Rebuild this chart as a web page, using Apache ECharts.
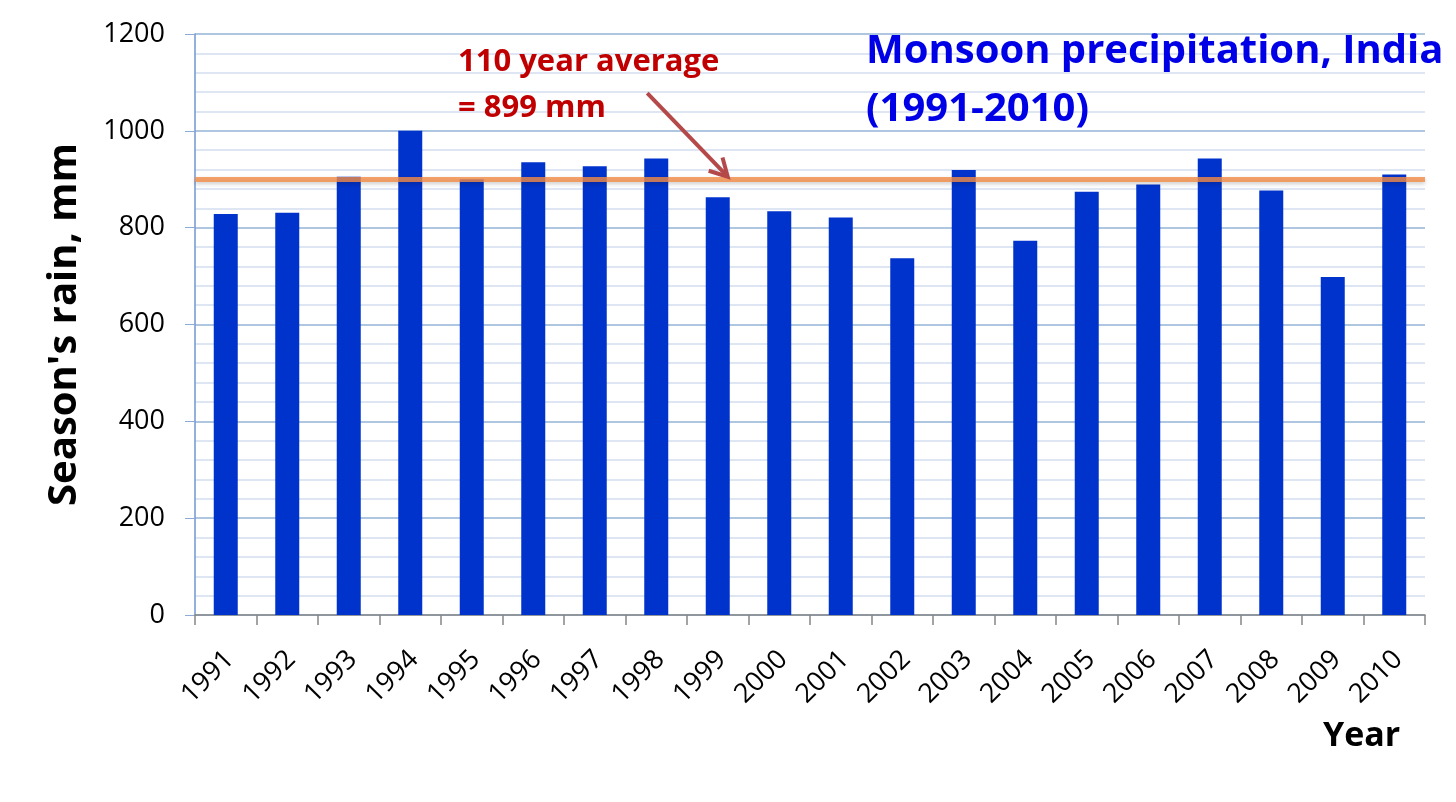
<!DOCTYPE html>
<html>
<head>
<meta charset="utf-8">
<script src="https://cdn.jsdelivr.net/npm/echarts@6/dist/echarts.min.js"></script>
<style>
  html, body { margin: 0; padding: 0; background: #fff; }
  #chart { width: 1456px; height: 802px; }
</style>
</head>
<body>
<div id="chart"></div>
<script>
var years = ['1991', '1992', '1993', '1994', '1995', '1996', '1997', '1998', '1999', '2000',
  '2001', '2002', '2003', '2004', '2005', '2006', '2007', '2008', '2009', '2010'];
var rainfall = [828, 831, 905, 1000, 900, 935, 927, 943, 863, 834,
  821, 737, 919, 773, 874, 889, 943, 877, 698, 910];
var longTermAverage = 899;
var yTicks = [0, 1200, 200];

var dom = document.getElementById('chart');
var myChart = echarts.init(dom, null, { renderer: 'canvas' });

var font = '"Open Sans", "Liberation Sans", sans-serif';

var option = {
  backgroundColor: '#ffffff',
  animation: false,
  title: [
    {
      text: 'Monsoon precipitation, India\n(1991-2010)',
      left: 866,
      top: 23,
      padding: 0,
      textStyle: { color: '#0000e6', fontSize: 40, fontWeight: 'bold', fontFamily: font, lineHeight: 58 }
    },
    {
      text: '110 year average\n= 899 mm',
      left: 458,
      top: 39,
      padding: 0,
      textStyle: { color: '#c00000', fontSize: 31, fontWeight: 'bold', fontFamily: font, lineHeight: 46 }
    },
    {
      text: 'Year',
      left: 1323,
      top: 719,
      padding: 0,
      textStyle: { color: '#000', fontSize: 34, fontWeight: 'bold', fontFamily: font }
    }
  ],
  grid: { left: 195, right: 31, top: 34, bottom: 187 },
  xAxis: {
    type: 'category',
    data: years,
    axisLine: { lineStyle: { color: '#868686', width: 1.5 } },
    axisTick: { show: true, interval: 0, length: 10, lineStyle: { color: '#868686', width: 1.5 } },
    axisLabel: {
      interval: 0, rotate: 45, margin: 25, verticalAlign: 'top', padding: [0, 8, 0, 0],
      fontSize: 27, color: '#000', fontFamily: font
    },
    splitLine: { show: false }
  },
  yAxis: {
    type: 'value',
    min: yTicks[0],
    max: yTicks[1],
    interval: yTicks[2],
    name: "Season's rain, mm",
    nameLocation: 'middle',
    nameGap: 110,
    nameTextStyle: { color: '#000', fontSize: 40, fontWeight: 'bold', fontFamily: font },
    axisLine: { show: true, lineStyle: { color: '#6f97d0', width: 1.5 } },
    axisTick: { show: true, length: 10, lineStyle: { color: '#8eaadb' } },
    axisLabel: {
      margin: 30, fontSize: 27, color: '#000', fontFamily: font,
      formatter: function (v) { return String(v); }
    },
    splitLine: { show: true, lineStyle: { color: '#95b3d7', width: 1.5 } },
    minorTick: { show: false, splitNumber: 5 },
    minorSplitLine: { show: true, lineStyle: { color: '#d3def0', width: 1.5 } }
  },
  series: [
    {
      name: "Season's rain",
      type: 'bar',
      data: rainfall,
      barWidth: 24,
      itemStyle: { color: '#0033cc' },
      markLine: {
        silent: true,
        symbol: 'none',
        label: { show: false },
        lineStyle: {
          color: 'rgba(244,140,70,0.8)',
          width: 5,
          type: 'solid',
          shadowColor: 'rgba(0,0,0,0.25)',
          shadowBlur: 4,
          shadowOffsetY: 2
        },
        data: [{ yAxis: longTermAverage }]
      }
    }
  ]
};

myChart.setOption(option);

// arrow from the annotation to the average line, placed from data positions
var tail = myChart.convertToPixel({ gridIndex: 0 }, ['1998', 1078]);
var tip = myChart.convertToPixel({ gridIndex: 0 }, ['1999', longTermAverage]);
tail[0] -= 9;
tip[0] += 10;
tip[1] -= 3;
var ang = Math.atan2(tip[1] - tail[1], tip[0] - tail[0]);
var head = 20;
var h1 = [tip[0] - head * Math.cos(ang - 0.5), tip[1] - head * Math.sin(ang - 0.5)];
var h2 = [tip[0] - head * Math.cos(ang + 0.5), tip[1] - head * Math.sin(ang + 0.5)];
myChart.setOption({
  graphic: [
    {
      type: 'line',
      shape: { x1: tail[0], y1: tail[1], x2: tip[0], y2: tip[1] },
      style: { stroke: '#b5494a', lineWidth: 4 },
      z: 100
    },
    {
      type: 'polyline',
      shape: { points: [h1, tip, h2] },
      style: { stroke: '#b5494a', lineWidth: 4, fill: null, lineJoin: 'miter' },
      z: 100
    }
  ]
});

window.addEventListener('resize', myChart.resize);
</script>
</body>
</html>
